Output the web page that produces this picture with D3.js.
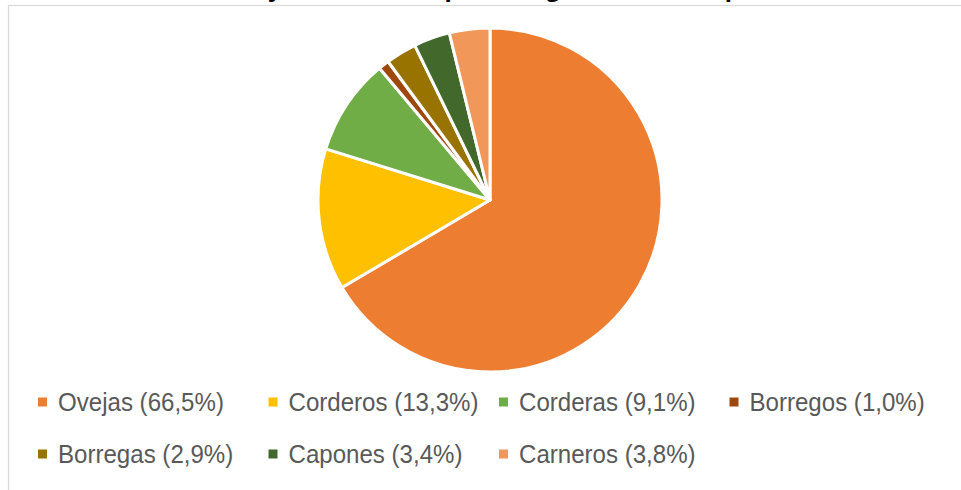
<!DOCTYPE html>
<html>
<head>
<meta charset="utf-8">
<script src="https://cdn.jsdelivr.net/npm/d3@7"></script>
<style>
    html, body { margin: 0; padding: 0; background: #fff; }
    svg { display: block; }
</style>
</head>
<body>
<div id="chart"></div>
<script>
// datos del gráfico
var categorias = ["Ovejas", "Corderos", "Corderas", "Borregos", "Borregas", "Capones", "Carneros"];
var porcentajes = [66.5, 13.3, 9.1, 1.0, 2.9, 3.4, 3.8];
var colores = ["#ED7D31", "#FFC000", "#70AD47", "#9E480E", "#997300", "#43682B", "#F1975A"];
var titulo = "Censo ovino y distribución por categorías de la especie";

var width = 961, height = 490;
var svg = d3.select("#chart").append("svg")
    .attr("width", width)
    .attr("height", height);

// borde del área del gráfico (se sale por la derecha y por abajo)
svg.append("rect")
    .attr("x", 8.5).attr("y", 5.5)
    .attr("width", 1000).attr("height", 600)
    .attr("fill", "#fff")
    .attr("stroke", "#d9d9d9")
    .attr("stroke-width", 1.2);

// título, cortado en la parte superior (sólo asoman los trazos descendentes)
var t = svg.append("text")
    .attr("x", 0).attr("y", -3)
    .style("font-family", "'Liberation Sans', Arial, sans-serif")
    .style("font-weight", "bold")
    .style("font-size", "24px")
    .attr("fill", "#000")
    .text(titulo);
// colocar la "y" y la última "p" donde están en la imagen
var node = t.node();
var iy = titulo.indexOf("y"), ip = titulo.lastIndexOf("p");
var ey = node.getExtentOfChar(iy), ep = node.getExtentOfChar(ip);
var cy = ey.x + ey.width / 2, cp = ep.x + ep.width / 2;
var sx = (733 - 275) / (cp - cy);
t.attr("transform", "translate(" + (275 - cy * sx) + ",0) scale(" + sx + ",1)");

// tarta
var cx = 490, cyC = 200, r = 172;
var pie = d3.pie().sort(null).value(function (d) { return d; });
var arc = d3.arc().innerRadius(0).outerRadius(r);
var g = svg.append("g").attr("transform", "translate(" + cx + "," + cyC + ")");
g.selectAll("path")
    .data(pie(porcentajes))
    .enter().append("path")
    .attr("d", arc)
    .attr("fill", function (d, i) { return colores[i]; })
    .attr("stroke", "#fff")
    .attr("stroke-width", 3)
    .attr("stroke-linejoin", "round");

// leyenda: 4 columnas, 2 filas
var fmt = function (v) { return v.toFixed(1).replace(".", ","); };
var colX = function (i) { return 38 + (i % 4) * 230.5; };
var rowY = function (i) { return 402 + Math.floor(i / 4) * 52; };

var leg = svg.append("g");
var items = leg.selectAll("g.item")
    .data(categorias)
    .enter().append("g")
    .attr("class", "item")
    .attr("transform", function (d, i) { return "translate(" + colX(i) + "," + rowY(i) + ")"; });

items.append("rect")
    .attr("x", 0).attr("y", -4.5)
    .attr("width", 9).attr("height", 9)
    .attr("fill", function (d, i) { return colores[i]; });

var labels = items.append("text")
    .attr("x", 0).attr("y", 0)
    .attr("dy", "0.36em")
    .style("font-family", "'Liberation Sans', Arial, sans-serif")
    .style("font-size", "26px")
    .attr("fill", "#595959")
    .text(function (d, i) { return d + " (" + fmt(porcentajes[i]) + "%)"; });

// el texto original es más estrecho: se comprime en horizontal
var w0 = labels.node().getComputedTextLength();
var k = 166 / w0;
labels.attr("transform", "translate(20,0) scale(" + k + ",1)");
</script>
</body>
</html>
